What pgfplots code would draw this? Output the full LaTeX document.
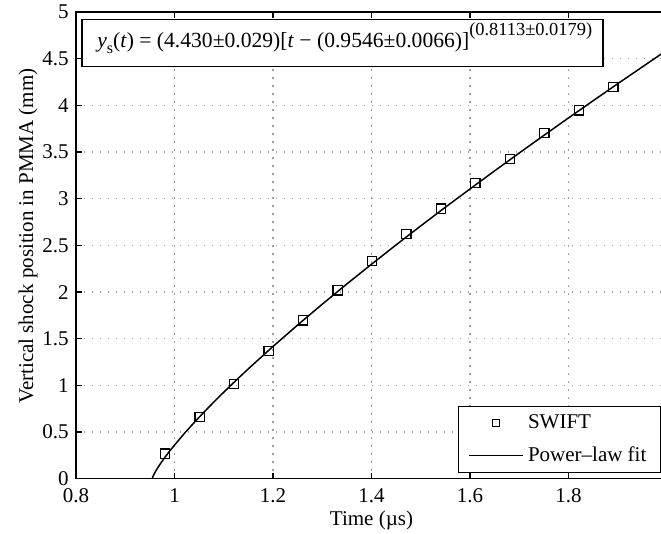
\documentclass[border=0pt]{standalone}
\usepackage{pgfplots}
\pgfplotsset{compat=1.18}
\usepackage{fontspec}
\setmainfont{Liberation Serif}

% Legend images: a single square mark, and a plain line segment
\pgfplotsset{
  sqlegend/.style={legend image code/.code={\draw[##1, mark size=1.7pt] plot coordinates {(13.5pt,0pt)};}},
  linelegend/.style={legend image code/.code={\draw[##1] (0pt,0pt) -- (27pt,0pt);}},
}

% SWIFT shock positions (time in microseconds, position in mm)
\pgfplotstableread{
t y
0.981 0.268
1.051 0.660
1.121 1.018
1.191 1.368
1.261 1.697
1.331 2.018
1.401 2.332
1.471 2.622
1.541 2.894
1.611 3.168
1.681 3.425
1.751 3.704
1.821 3.947
1.891 4.197
}\swift

% Power-law fit y = 4.430 (t - 0.9546)^0.8113, tabulated
\pgfplotstableread{
t y
0.9546 0.000
0.956 0.021
0.960 0.064
0.965 0.109
0.970 0.150
0.980 0.225
0.990 0.295
1.000 0.360
1.020 0.485
1.040 0.602
1.060 0.714
1.080 0.822
1.100 0.927
1.120 1.029
1.150 1.178
1.200 1.417
1.250 1.647
1.300 1.870
1.350 2.087
1.400 2.298
1.450 2.506
1.500 2.709
1.550 2.909
1.600 3.105
1.650 3.299
1.700 3.490
1.750 3.679
1.800 3.866
1.850 4.050
1.900 4.233
1.950 4.413
2.000 4.593
}\fit

\begin{document}
\fontsize{10.5}{12.6}\selectfont
\begin{tikzpicture}
\begin{axis}[
  scale only axis,
  width=295.5pt, height=233.3pt,
  xmin=0.8, xmax=2, ymin=0, ymax=5,
  xtick={0.8,1,1.2,1.4,1.6,1.8,2},
  ytick={0,0.5,1,1.5,2,2.5,3,3.5,4,4.5,5},
  /pgf/number format/assume math mode=true,
  ticklabel style={font=\fontsize{10.5}{12.6}\selectfont},
  x tick label style={anchor=base, inner sep=0pt, yshift=-12pt},
  tick align=inside,
  major tick length=2.8pt,
  tick style={black, line width=0.6pt},
  axis line style={line width=0.7pt},
  grid=major,
  major grid style={gray!75, line width=0.6pt, dash pattern=on 0.7pt off 3.3pt},
  xlabel={Time (µs)},
  ylabel={Vertical shock position in PMMA (mm)},
  every axis x label/.style={at={(rel axis cs:0.5,0)}, anchor=base, inner sep=0pt, yshift=-23.5pt},
  every axis y label/.style={at={(rel axis cs:-0.0643,0.52)}, rotate=90, anchor=south, inner sep=0pt},
  legend style={at={(rel axis cs:1,0)}, anchor=south east, xshift=-3pt, yshift=2.7pt,
    draw=black, line width=0.6pt, fill=white, font=\fontsize{10.5}{12.6}\selectfont,
    inner xsep=5pt, inner ysep=2pt, row sep=3.5pt,
    nodes={inner sep=2pt}},
  legend cell align=left,
]
\addplot[only marks, mark=square, mark size=2.3pt, line width=0.6pt, black, sqlegend]
  table[x=t, y=y] {\swift};
\addlegendentry{SWIFT}
\addplot[black, line width=0.75pt, no marks, linelegend]
  table[x=t, y=y] {\fit};
\addlegendentry{Power–law fit\hspace{3pt}}

\draw[line width=0.6pt, fill=white] (axis cs:0.812,4.419) rectangle (axis cs:1.870,4.923);
\node[anchor=base west, inner sep=0pt, font=\fontsize{10.8}{13}\selectfont] at (axis cs:0.8426,4.623)
  {\textit{y}\raisebox{-3pt}{\fontsize{8}{9}\selectfont s}(\textit{t}) = (4.430±0.029)[\textit{t} − (0.9546±0.0066)]\raisebox{6pt}{\fontsize{9.2}{10}\selectfont(0.8113±0.0179)}};

\coordinate (sw) at (rel axis cs:0,0);
\coordinate (ne) at (rel axis cs:1,1);
\end{axis}
\pgfresetboundingbox
\useasboundingbox ([shift={(-38pt,-27.6pt)}]sw) rectangle ([shift={(-3pt,6.05pt)}]ne);
\end{tikzpicture}
\end{document}
